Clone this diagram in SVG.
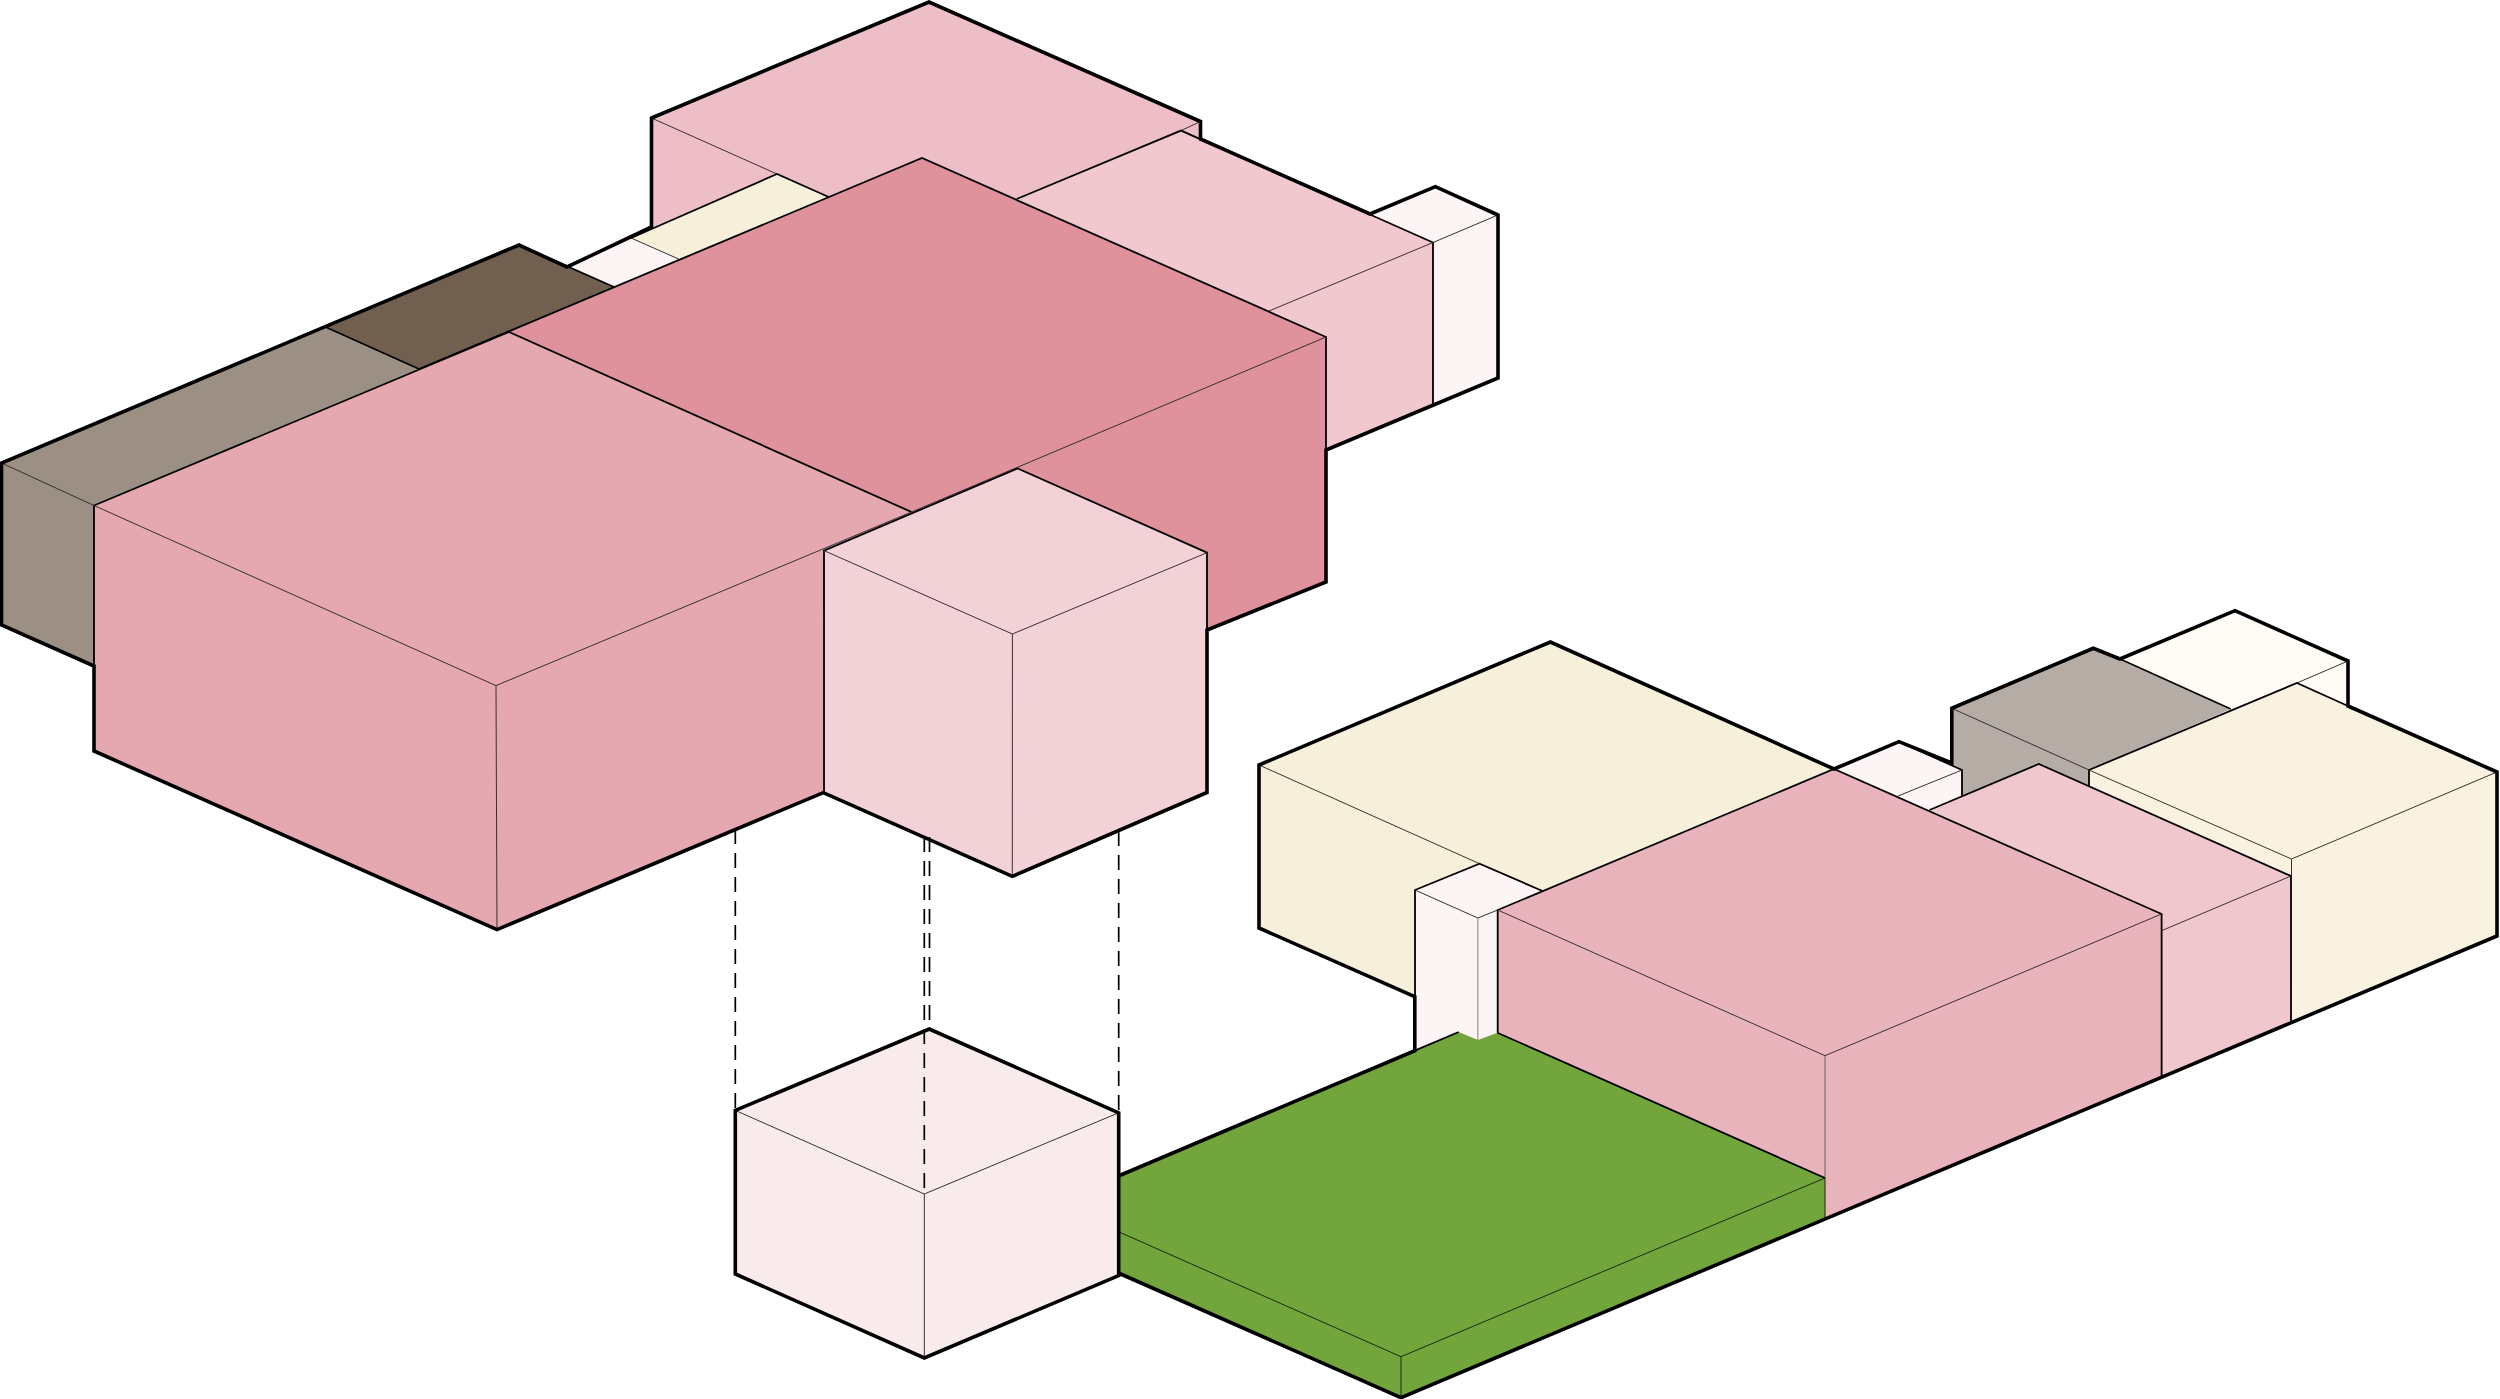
<svg xmlns="http://www.w3.org/2000/svg" width="2500" height="1399" viewBox="0 0 2500 1399">
<style>
polygon{stroke:none}
polyline,path{fill:none;stroke-linejoin:miter;stroke-linecap:butt}
.m{stroke:#000;stroke-width:1.8}
.t{stroke:#3a3030;stroke-width:1}
.g{stroke:#1c2a0c;stroke-width:1}
.o{stroke:#000;stroke-width:3.6}
.d{stroke:#000;stroke-width:1.7;stroke-dasharray:15 9}
</style>
<rect width="2500" height="1399" fill="#fff"/>
<g id="block-tall-pink"><polygon fill="#edbec6" points="651.5,118 929,2 1200.5,121.5 1200.5,139 1181,131 1016.7,199 800,300 651.5,300"/>
<polyline class="t" points="651.5,118 777,174"/><polyline class="t" points="1200.5,121.5 1181,130.6"/></g>
<g id="block-white-right"><polygon fill="#fdf5f5" points="1370,214 1435.4,186.6 1498,215 1498,378 1433,404 1433,242.5"/>
<polyline class="t" points="1433,242.5 1498,215"/></g>
<g id="block-pink-second"><polygon fill="#f0c8ce" points="1181,130.6 1433,242.5 1433,404 1326,450 1326,337 1016.7,199"/>
<polyline class="m" points="1016.7,199 1181,130.6 1433,242.5 1433,404"/><polyline class="t" points="1433,242.5 1269,311"/></g>
<g id="block-white-small"><polygon fill="#fdf5f5" points="567,267 631,238 678.6,259 614,287"/></g>
<g id="block-cream-small"><polygon fill="#f6efda" points="631,238 777,174 828.7,197 678.6,259"/>
<polyline class="t" points="631,238 678.6,259"/><polyline class="m" points="631,238 777,174 828.7,197"/></g>
<g id="block-gray"><polygon fill="#9b9083" points="1.5,463 325.5,327 419,369 94,505.5 94,666 1.5,625"/>
<polyline class="t" points="1.5,463 94,505.5"/></g>
<g id="block-brown"><polygon fill="#715f50" points="325.5,327 519,245 614,287 419,369"/>
<polyline class="m" points="325.5,327 419,369"/><polyline class="m" points="519,245 614,287"/></g>
<g id="block-dark-pink"><polygon fill="#df919c" points="509,332 922,158 1326,337 1326,582 1207,630 1000,700 600,500"/>
<polyline class="m" points="419,369 922,158 1326,337 1326,582"/><polyline class="t" points="1326,337 911.5,512"/></g>
<g id="block-big-pink"><polygon fill="#e5a8b1" points="94,505.5 509,332 911.5,512 823.3,550 823.3,792.6 497,929.6 94,751"/>
<polyline class="m" points="94,751 94,505.5 509,332 911.5,512"/><polyline class="t" points="94,505.5 496,685.6 911.5,512"/><polyline class="t" points="496,685.6 497,929.6"/></g>
<g id="block-light-cube"><polygon fill="#f2d2d7" points="824,550.6 1017.7,468.5 1207,552.7 1207,792.5 1012.3,876.4 823.3,792.6"/>
<polyline class="m" points="824,792.6 824,550.6 1017.7,468.5 1207,552.7 1207,792.5"/><polyline class="t" points="824,550.6 1012.4,634 1207,552.7"/><polyline class="t" points="1012.4,634 1012.3,876.4"/></g>
<g id="block-pale-yellow"><polygon fill="#f6efda" points="1259,765 1550.4,642 1834,769 1542.5,891 1479.5,1000 1415,1000 1259,928"/>
<polyline class="t" points="1259,765 1479.5,863.7"/></g>
<g id="block-pillar"><polygon fill="#fdf5f5" points="1479.5,863.7 1415,890 1415,1060 1497.7,1060 1497.7,910 1542.5,891"/>
<polyline class="m" points="1415,1050 1415,890 1479.5,863.7 1542.5,891"/><polyline class="t" points="1415,890 1477.8,918 1497.7,910"/><polyline stroke="#9a9090" stroke-width="1.2" points="1477.8,918 1477.8,1040"/></g>
<g id="block-white-back"><polygon fill="#fefcf5" points="2120,659 2235,610.7 2348,661 2348,706 2296.9,683 2230.8,709"/>
<polyline class="t" points="2348,661 2296.9,683"/></g>
<g id="block-gray-right"><polygon fill="#b5aca6" points="1951.8,708.3 2093.3,648.3 2230.8,709 2089,770 2089,800 1960,800 1951.8,763"/>
<polyline class="m" points="2120,659 2230.8,709"/><polyline class="t" points="1951.8,708.3 2089,770"/></g>
<g id="block-cream-right"><polygon fill="#f9f2e0" points="2089,770 2296.9,683 2497,772 2497,936 2291.5,1022 2291,876 2089,786.7"/>
<polyline class="m" points="2089,786.7 2089,770 2296.9,683 2348,706"/><polyline class="t" points="2089,770 2291.5,859 2497,772"/><polyline class="t" points="2291.5,859 2291.5,876"/></g>
<g id="block-white-front"><polygon fill="#fdf5f5" points="1834.8,769 1899,741.7 1962,770 1962,796.7 1929.5,810 1898,796"/>
<polyline class="m" points="1899,741.7 1962,770 1962,796.7"/><polyline class="t" points="1898,796 1962,770"/></g>
<g id="block-pink-right"><polygon fill="#f0c7cd" points="1929.5,810 2038.8,764 2291,876 2291,1022 2161.6,1076.7 2161.6,914"/>
<polyline class="m" points="1929.5,810 2038.8,764 2291,876 2291,1022"/><polyline class="t" points="2161.6,930.7 2291,876"/></g>
<g id="block-pink-main"><polygon fill="#e9b3bc" points="1497.7,910 1834,769 2161.6,914 2161.6,1076.7 1825,1218 1825,1178 1497.4,1032.7"/>
<polyline class="m" points="1497.7,1032.7 1497.7,910 1834,769 2161.6,914 2161.6,1076.7"/><polyline class="t" points="1497.7,910 1825,1055.7 2161.6,914"/><polyline stroke="#6a5a5e" stroke-width="1" points="1825,1055.7 1825,1178"/></g>
<g id="block-green"><polygon fill="#72a63c" points="1118.4,1176 1414.8,1050.7 1458.7,1032 1478,1040 1497.4,1032.7 1825,1178 1825,1218 1401,1397.7 1118.4,1273"/>
<polyline class="m" points="1414.8,1050.7 1458.7,1032"/><polyline class="m" points="1497.4,1032.7 1825,1178"/><polyline class="g" points="1825,1178 1825,1218"/><polyline class="g" points="1118.4,1231.7 1401,1356.7 1825,1178"/><polyline class="g" points="1401,1356.7 1401,1397.7"/></g>
<g id="block-lower-cube"><polygon fill="#f9ebec" points="735.3,1110.4 929.3,1029 1118.7,1112.8 1118.7,1275.6 924.3,1358 735.3,1274"/>
<polyline class="t" points="735.3,1110.4 924.3,1194 1118.7,1112.8"/><polyline class="t" points="924.3,1194 924.3,1358"/></g>
<g id="outlines">
<path class="o" d="M1.5 625V463L519 245 567 267 651.5 227V118L929 2 1200.5 121.5V139L1370 214 1435.4 186.6 1498 215V378L1326 450V582L1207 630V792.5L1012.3 876.4 823.3 792.6 497 929.6 94 751V666Z"/>
<path class="o" d="M735.3 1110.4L929.3 1029 1118.7 1112.8V1275.6L924.3 1358 735.3 1274Z"/>
<path class="o" d="M1118.4 1176L1414.8 1050.7V996.7L1259 928V765L1550.4 642 1834 769 1899 741.7 1951.8 763V708.3L2093.3 648.3 2120 659 2235 610.7 2348 661V706L2497 772V936L1401 1397.7 1118.4 1273"/>
</g>
<g id="connectors">
<path class="d" d="M735.3 829V1110"/>
<path class="d" d="M924.3 837V1194"/>
<path class="d" d="M929.5 837V1029"/>
<path class="d" d="M1118.7 831V1112"/>
</g>
</svg>
